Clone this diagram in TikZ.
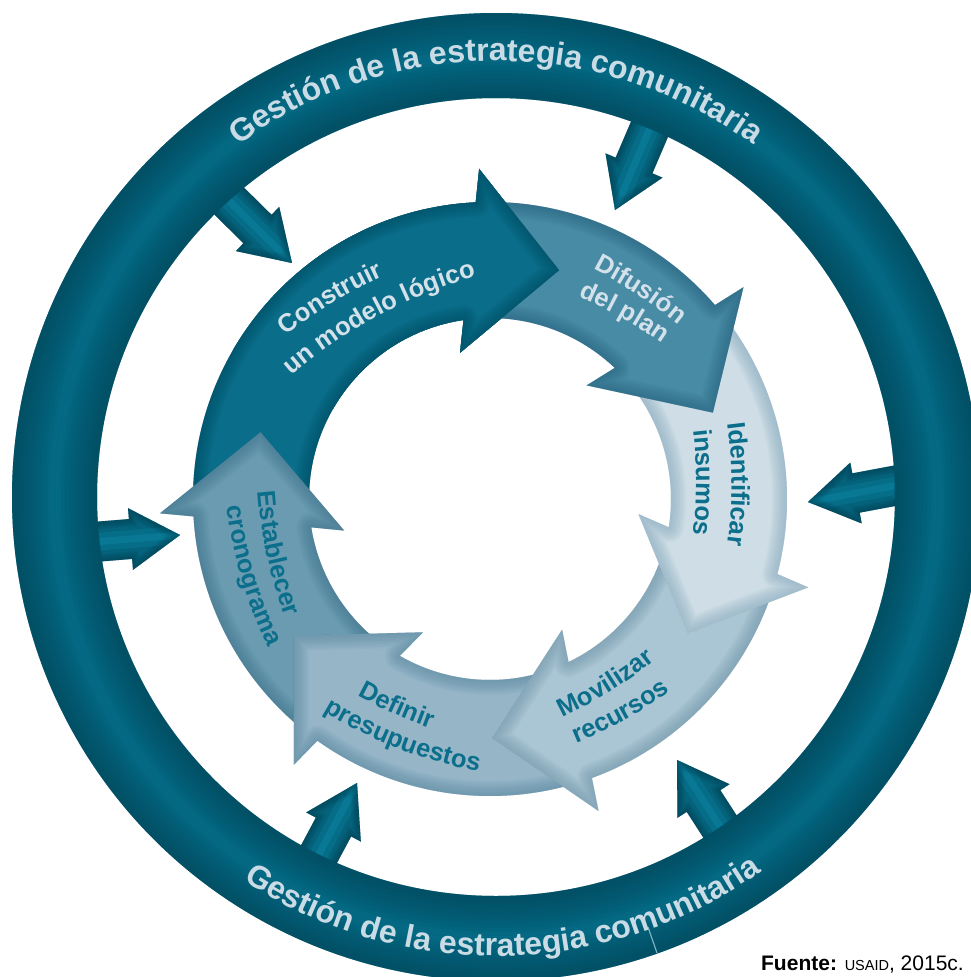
\documentclass[tikz,border=0pt]{standalone}
\usepackage{fontspec}
\setmainfont{Liberation Sans}
\usetikzlibrary{calc,decorations.text}
\definecolor{ringc}{HTML}{06708C}
\definecolor{ringd}{HTML}{023F50}
\definecolor{ringtxt}{HTML}{C9DCE6}
\definecolor{sac}{HTML}{04627B}
\definecolor{sahi}{HTML}{0C89A8}
\definecolor{sad}{HTML}{023A4A}
\definecolor{conc}{HTML}{0A6E8A}
\definecolor{cond}{HTML}{034E63}
\definecolor{difc}{HTML}{488BA5}
\definecolor{difd}{HTML}{2A6580}
\definecolor{idec}{HTML}{CEDDE6}
\definecolor{ided}{HTML}{86AABD}
\definecolor{movc}{HTML}{AAC5D3}
\definecolor{movd}{HTML}{7197AB}
\definecolor{defc}{HTML}{96B6C8}
\definecolor{defd}{HTML}{5A89A1}
\definecolor{estc}{HTML}{6A9BB1}
\definecolor{estd}{HTML}{41768E}
\definecolor{lbllight}{HTML}{D3E1EA}
\definecolor{lbldark}{HTML}{0B6E8B}

\newcommand\lblfont{\fontsize{25.5}{30}\selectfont\bfseries}
\newcommand\ringfont{\fontsize{32}{38}\selectfont\bfseries}

% inner curved arrow: #1 tail angle, #2 head base angle (screen angles, clockwise)
\newcommand\arrpath[2]{($(C)+(#1:297)$) arc[start angle=#1, end angle={#2+2.14}, radius=297]
  -- ($(C)+({#2+3.02}:330.3)$) -- ($(C)+({#2+21.7}:239)$) -- ($(C)+({#2-6.70}:149.2)$)
  -- ($(C)+({#2-3.51}:181)$) arc[start angle={#2-3.51}, end angle=#1, radius=181] -- cycle}
\newcommand\drawarr[4]{%
  \fill[#3] \arrpath{#1}{#2};
  \begin{scope}
    \clip \arrpath{#1}{#2};
    \foreach \w in {3,6,...,30}{\draw[#4, line width=\w, draw opacity=0.08, line join=round] \arrpath{#1}{#2};}
  \end{scope}}

% small block arrows
\newcommand\sapath[1]{($(#1s)!20pt!90:(#1t)$) -- ($(#1b)!20pt!90:(#1t)$) -- ($(#1b)!31pt!90:(#1t)$) -- (#1t) -- ($(#1b)!31pt!-90:(#1t)$) -- ($(#1b)!20pt!-90:(#1t)$) -- ($(#1s)!20pt!-90:(#1t)$) -- cycle}
\newcommand\drawsa[1]{%
  \fill[sac] \sapath{#1};
  \begin{scope}
    \clip \sapath{#1};
    \draw[sahi, line width=18, draw opacity=0.3] (#1s) -- (#1t);
    \draw[sahi, line width=7, draw opacity=0.4] (#1s) -- (#1t);
    \foreach \w in {3,6,...,15}{\draw[sad, line width=\w, draw opacity=0.12] \sapath{#1};}
  \end{scope}}

% curved labels: #1 mid point, #2 direction (screen angle), #3 radius, #4 colour, #5 text
\newcommand\archtext[5]{%
  \path[decorate, decoration={text along path, text align=center, text color=#4, text={|\lblfont|#5}}]
    ($#1+({#2+90}:#3)+({#2-130}:#3)$) arc[start angle={#2-130}, end angle={#2-50}, radius=#3];}
\newcommand\smiletext[5]{%
  \path[decorate, decoration={text along path, text align=center, text color=#4, text={|\lblfont|#5}}]
    ($#1+({#2-90}:#3)+({#2+130}:#3)$) arc[start angle={#2+130}, end angle={#2+50}, radius=#3];}

\begin{document}
\begin{tikzpicture}[x=1pt,y=-1pt]
\clip (0,0) rectangle (971,977);
\fill[white] (0,0) rectangle (971,977);
\coordinate (C) at (490,499);
\coordinate (R) at (496,497);

% small arrows from the outer ring
\coordinate (a1b) at (257.5,229); \coordinate (a1t) at (292,263);
\coordinate (a2b) at (634,165.5); \coordinate (a2t) at (615,210);
\coordinate (a3b) at (856,493);   \coordinate (a3t) at (808,502);
\coordinate (a4b) at (703.5,801); \coordinate (a4t) at (677,760);
\coordinate (a5b) at (333.5,827); \coordinate (a5t) at (357,783);
\coordinate (a6b) at (130.5,539); \coordinate (a6t) at (180,535);
\foreach \i in {1,...,6}{\coordinate (a\i s) at ($(a\i b)!-90pt!(a\i t)$);}
\drawsa{a1}\drawsa{a2}\drawsa{a3}\drawsa{a4}\drawsa{a5}\drawsa{a6}

% outer ring
\draw[ringc, line width=85] (R) circle[radius=441.5];
\foreach \w in {4,8,...,44}{
  \draw[ringd, line width=\w, draw opacity=0.08] (R) circle[radius={399+\w/2}];
  \draw[ringd, line width=\w, draw opacity=0.08] (R) circle[radius={484-\w/2}];
}
\draw[ringtxt!60!ringc, line width=1.2] (648,927) -- (657,953);

\path[decorate, decoration={text along path, text align=center, text color=ringtxt,
  text={|\ringfont|Gestión de la estrategia comunitaria}}]
  ($(R)+(-180:436)$) arc[start angle=-180, end angle=0, radius=436];
\path[decorate, decoration={text along path, text align=center, text color=ringtxt,
  text={|\ringfont|Gestión de la estrategia comunitaria}}]
  ($(R)+(179:459)$) arc[start angle=179, end angle=-1, radius=459];

% inner cycle
\drawarr{-182.5}{-94.9}{conc}{cond}
\drawarr{126.4}{174.5}{estc}{estd}
\drawarr{70.8}{123.4}{defc}{defd}
\drawarr{15.5}{67.8}{movc}{movd}
\drawarr{-39.9}{12.5}{idec}{ided}
\drawarr{-91.9}{-42.9}{difc}{difd}
\begin{scope}
  \clip (C) -- ($(C)+(-150:420)$) arc[start angle=-150, end angle=-40, radius=420] -- cycle;
  \drawarr{-182.5}{-94.9}{conc}{cond}
\end{scope}

% labels
\archtext{(333,302.7)}{-31.1}{480}{lbllight}{Construir}
\archtext{(378.6,316)}{-28.3}{480}{lbllight}{un modelo lógico}
\archtext{(637.1,294.5)}{33.3}{480}{lbllight}{Difusión}
\archtext{(621.2,317.9)}{29.2}{480}{lbllight}{del plan}
\archtext{(731.5,484)}{90}{480}{lbldark}{Identificar}
\archtext{(696.1,482.5)}{90}{480}{lbldark}{insumos}
\smiletext{(610.2,691.7)}{-31.9}{480}{lbldark}{Movilizar}
\smiletext{(624.9,720)}{-28.7}{480}{lbldark}{recursos}
\smiletext{(393.6,713.6)}{24.2}{480}{lbldark}{Definir}
\smiletext{(398.4,748.5)}{21.1}{480}{lbldark}{presupuestos}
\smiletext{(267.1,554.8)}{78}{480}{lbldark}{Establecer}
\smiletext{(241.8,578.5)}{73.5}{480}{lbldark}{cronograma}

\node[anchor=base east, inner sep=0pt] (src) at (964,970)
  {\fontsize{21}{24}\selectfont\textbf{Fuente:} {\fontsize{14.5}{16}\selectfont USAID}, 2015c.};
\end{tikzpicture}
\end{document}
